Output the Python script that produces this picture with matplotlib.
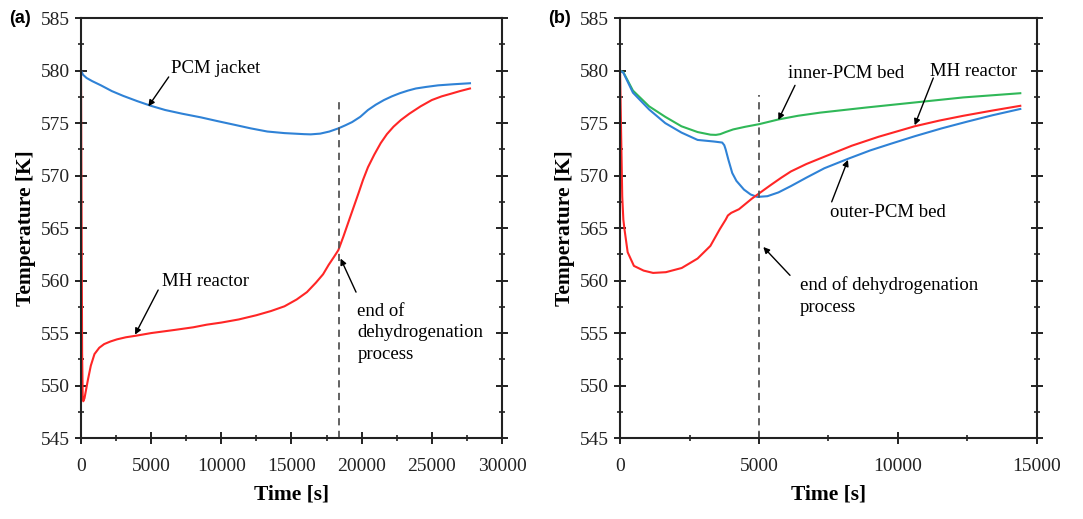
import matplotlib
matplotlib.use("Agg")
import matplotlib.pyplot as plt
from matplotlib.ticker import MultipleLocator

plt.rcParams['font.family'] = ['Liberation Serif', 'DejaVu Serif']

# (a) PCM jacket
a_pcm_t = [0, 150, 400, 800, 1420, 2200, 3000, 4000, 4980, 6000, 7200, 8540, 9700,
           10910, 12100, 13280, 14500, 15900, 16370, 17045, 17700, 18340, 18850,
           19320, 19900, 20450, 21000, 21590, 22150, 22720, 23300, 23860, 24600,
           25450, 26500, 27720]
a_pcm_T = [580.0, 579.6, 579.3, 579.0, 578.6, 578.05, 577.6, 577.1, 576.65, 576.25,
           575.9, 575.55, 575.2, 574.85, 574.5, 574.2, 574.05, 573.95, 573.93, 574.0,
           574.2, 574.5, 574.8, 575.1, 575.6, 576.25, 576.75, 577.2, 577.55, 577.85,
           578.1, 578.3, 578.45, 578.6, 578.7, 578.8]

# (a) MH reactor
a_mh_t = [0, 40, 80, 120, 160, 250, 360, 500, 700, 960, 1300, 1650, 2100, 2560, 3200,
          3930, 5000, 6680, 8000, 8960, 10000, 11250, 12500, 13540, 14500, 15370,
          16100, 16740, 17250, 17650, 18000, 18340, 18700, 19090, 19430, 19770,
          20100, 20450, 20900, 21360, 21800, 22270, 22800, 23400, 24200, 25000,
          25700, 26360, 27000, 27720]
a_mh_T = [580.0, 566.0, 553.0, 549.0, 548.5, 548.8, 549.6, 550.6, 551.9, 553.0,
          553.6, 553.95, 554.2, 554.4, 554.6, 554.75, 555.0, 555.3, 555.55, 555.8,
          556.0, 556.3, 556.7, 557.1, 557.55, 558.2, 558.9, 559.8, 560.6, 561.5,
          562.2, 562.9, 564.2, 565.7, 567.0, 568.3, 569.6, 570.8, 572.0, 573.1,
          573.95, 574.66, 575.3, 575.9, 576.6, 577.2, 577.55, 577.8, 578.05, 578.3]

a_end_t = 18380

# (b) inner-PCM bed
b_in_t = [0, 120, 465, 1047, 1628, 2210, 2791, 3256, 3450, 3605, 3800, 4070, 4500,
          5000, 5700, 6400, 7200, 8900, 10900, 12350, 14400]
b_in_T = [580.0, 579.85, 578.1, 576.6, 575.6, 574.7, 574.15, 573.9, 573.88, 573.95,
          574.15, 574.4, 574.65, 574.9, 575.35, 575.7, 576.0, 576.5, 577.05, 577.45,
          577.85]

# (b) outer-PCM bed
b_out_t = [0, 120, 465, 1047, 1628, 2210, 2791, 3373, 3675, 3750, 3800, 3900, 4037,
           4187, 4459, 4700, 4941, 5302, 5700, 6146, 6700, 7350, 8200, 9000, 9760,
           10600, 11570, 12500, 13400, 14400]
b_out_T = [580.0, 579.8, 577.9, 576.3, 575.0, 574.1, 573.4, 573.25, 573.15, 572.9,
           572.5, 571.5, 570.25, 569.5, 568.67, 568.2, 567.97, 568.04, 568.4, 569.0,
           569.8, 570.7, 571.6, 572.4, 573.05, 573.75, 574.5, 575.15, 575.75, 576.35]

# (b) MH reactor
b_mh_t = [0, 40, 80, 120, 160, 275, 500, 850, 1190, 1650, 2220, 2790, 3250, 3590,
          3800, 3880, 4000, 4280, 4740, 5000, 5420, 5800, 6150, 6700, 7350, 8340,
          9300, 10600, 11500, 12350, 13400, 14400]
b_mh_T = [580.0, 574.0, 568.0, 565.8, 564.9, 562.7, 561.4, 560.95, 560.73, 560.8,
          561.2, 562.1, 563.3, 564.9, 565.8, 566.2, 566.45, 566.8, 567.8, 568.3,
          569.1, 569.8, 570.4, 571.1, 571.8, 572.85, 573.7, 574.7, 575.25, 575.7,
          576.2, 576.65]

b_end_t = 5000

blue = '#2f82d6'
red = '#ff2626'
green = '#30b858'

fig = plt.figure(figsize=(10.83, 5.19), dpi=100)
ax1 = fig.add_axes([0.0748, 0.156, 0.3887, 0.809])
ax2 = fig.add_axes([0.5725, 0.156, 0.385, 0.809])

arrow = dict(arrowstyle='-|>', color='black', lw=1.0, mutation_scale=9,
             shrinkA=0, shrinkB=0)


def style_axes(ax, xmax, xmajor):
    ax.set_xlim(0, xmax)
    ax.set_ylim(545, 585)
    ax.xaxis.set_major_locator(MultipleLocator(xmajor))
    ax.xaxis.set_minor_locator(MultipleLocator(xmajor / 2))
    ax.yaxis.set_major_locator(MultipleLocator(5))
    ax.yaxis.set_minor_locator(MultipleLocator(2.5))
    ax.tick_params(which='major', direction='inout', length=8.5, width=1.4,
                   labelsize=14, right=True, top=False, colors='#222222')
    ax.tick_params(which='minor', direction='inout', length=5, width=1.2,
                   right=True, top=False, colors='#222222')
    ax.tick_params(axis='y', pad=4)
    ax.tick_params(axis='x', pad=10)
    for s in ax.spines.values():
        s.set_linewidth(1.5)
        s.set_color('#222222')
    ax.set_xlabel("Time [s]", fontsize=15.5, fontweight='bold', labelpad=7)
    ax.set_ylabel("Temperature [K]", fontsize=15.5, fontweight='bold', labelpad=3)


# panel (a)
ax1.plot(a_pcm_t, a_pcm_T, color=blue, lw=1.5)
ax1.plot(a_mh_t, a_mh_T, color=red, lw=1.5)
ax1.plot([a_end_t, a_end_t], [545, 577.5], color='#555555', lw=1.3, ls=(0, (4, 3)))
style_axes(ax1, 30000, 5000)
ax1.text(6400, 580.2, "PCM jacket", fontsize=13.5, va='center')
ax1.annotate("", xy=(4800, 576.6), xytext=(6250, 579.4), arrowprops=arrow)
ax1.text(5770, 559.9, "MH reactor", fontsize=13.5, va='center')
ax1.annotate("", xy=(3850, 554.85), xytext=(5500, 559.1), arrowprops=arrow)
ax1.text(19700, 557.9, "end of\ndehydrogenation\nprocess", fontsize=13.5,
         va='top', ha='left', linespacing=1.35)
ax1.annotate("", xy=(18500, 562.1), xytext=(19600, 558.9), arrowprops=arrow)

# panel (b)
ax2.plot(b_in_t, b_in_T, color=green, lw=1.5)
ax2.plot(b_out_t, b_out_T, color=blue, lw=1.5)
ax2.plot(b_mh_t, b_mh_T, color=red, lw=1.5)
ax2.plot([b_end_t, b_end_t], [545, 577.7], color='#555555', lw=1.3, ls=(0, (4, 3)))
style_axes(ax2, 15000, 5000)
ax2.text(6043, 579.7, "inner-PCM bed", fontsize=13.5, va='center')
ax2.annotate("", xy=(5695, 575.3), xytext=(6295, 578.6), arrowprops=arrow)
ax2.text(11151, 579.9, "MH reactor", fontsize=13.5, va='center')
ax2.annotate("", xy=(10600, 574.8), xytext=(11270, 579.3), arrowprops=arrow)
ax2.text(7554, 566.5, "outer-PCM bed", fontsize=13.5, va='center')
ax2.annotate("", xy=(8200, 571.5), xytext=(7615, 567.5), arrowprops=arrow)
ax2.text(6475, 560.4, "end of dehydrogenation\nprocess", fontsize=13.5,
         va='top', ha='left', linespacing=1.35)
ax2.annotate("", xy=(5155, 563.2), xytext=(6115, 560.5), arrowprops=arrow)

fig.text(0.008, 0.965, "(a)", fontsize=13, fontweight='bold', va='center',
         family='Liberation Sans')
fig.text(0.506, 0.965, "(b)", fontsize=13, fontweight='bold', va='center',
         family='Liberation Sans')

fig.savefig("out.png", dpi=100)
